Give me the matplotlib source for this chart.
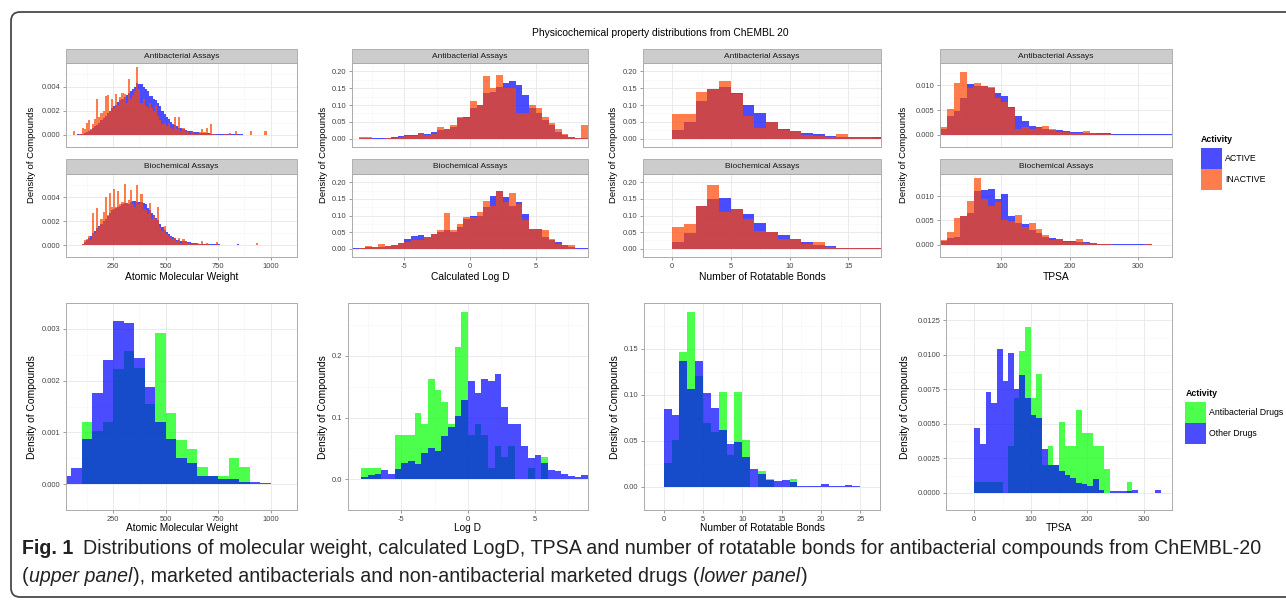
import numpy as np
import matplotlib

matplotlib.use("Agg")
import matplotlib.pyplot as plt
from matplotlib.patches import Rectangle, FancyBboxPatch
from matplotlib.transforms import IdentityTransform

W, H = 1286, 601
plt.rcParams["font.family"] = ["Liberation Sans", "DejaVu Sans"]

# ---------------- data (densities) ----------------
# upper panel: ChEMBL 20 assays, ACTIVE vs INACTIVE
# molecular weight, bins of 10 starting at 60, values in units of 1e-3
mw_start, mw_width = 60, 10
mw_ab_active = [0.02, 0.03, 0.05, 0.07,
                0.10, 0.15, 0.20, 0.30, 0.40, 0.55, 0.70, 0.85, 1.00, 1.20,
                1.40, 1.60, 1.80, 2.00, 2.20, 2.40, 2.50, 2.70, 2.90, 3.00,
                3.10, 3.30, 3.50, 3.60, 3.80, 4.00, 4.30, 4.20, 4.20, 4.00,
                3.80, 3.60, 3.20, 3.20, 3.00, 2.90, 2.60, 2.40, 2.00, 1.70,
                1.50, 1.30, 1.10, 0.90, 0.80, 0.70, 0.60, 0.55, 0.50, 0.40,
                0.35, 0.30, 0.30, 0.25, 0.20, 0.20, 0.18, 0.15, 0.15, 0.12,
                0.12, 0.10, 0.10, 0.10, 0.08,
                0.08, 0.07, 0.07, 0.06, 0.06, 0.05, 0.05, 0.05, 0.04, 0.04,
                0.04, 0.04, 0.03, 0.03, 0.03, 0.03, 0.03, 0.02, 0.02, 0.02,
                0.02, 0.02, 0.02, 0.02, 0.02]
mw_ab_inactive = [0.30, 0.00, 0.00, 0.05,
                  0.60, 0.50, 1.00, 1.20, 0.50, 0.90, 1.30, 3.00, 1.50, 1.80,
                  2.00, 3.20, 3.30, 2.00, 3.00, 2.20, 3.40, 2.50, 3.10, 3.50,
                  3.40, 2.60, 4.60, 3.00, 3.30, 3.60, 5.60, 3.80, 2.60, 3.00,
                  2.40, 2.20, 2.60, 2.20, 2.00, 2.50, 1.60, 1.20, 0.90, 1.00,
                  0.70, 1.00, 0.60, 0.50, 1.50, 0.50, 1.50, 0.30, 0.60, 0.30,
                  0.20, 0.10, 0.30, 0.10, 0.05, 0.10, 0.20, 0.50, 0.20, 0.60,
                  0.10, 0.90, 0.05, 0.05, 0.00,
                  0.00, 0.00, 0.00, 0.05, 0.00, 0.15, 0.00, 0.00, 0.30, 0.00,
                  0.00, 0.00, 0.00, 0.00, 0.00, 0.30, 0.00, 0.00, 0.00, 0.00,
                  0.00, 0.00, 0.30, 0.00, 0.00]
mw_bio_active = [0.02, 0.02, 0.03, 0.03,
                 0.10, 0.25, 0.40, 0.60, 0.80, 1.00, 1.20, 1.40, 1.60, 1.80,
                 2.00, 2.20, 2.40, 2.70, 2.90, 3.00, 3.10, 3.20, 3.30, 3.40,
                 3.50, 3.50, 3.40, 3.60, 3.70, 3.70, 3.60, 3.60, 3.60, 3.50,
                 3.40, 3.10, 2.90, 2.70, 2.50, 2.30, 2.10, 1.80, 1.50, 1.30,
                 1.10, 0.90, 0.80, 0.70, 0.55, 0.45, 0.40, 0.35, 0.30, 0.30,
                 0.25, 0.25, 0.20, 0.20, 0.15, 0.12, 0.10, 0.10, 0.08, 0.08,
                 0.07, 0.06, 0.06, 0.05, 0.05, 0.05, 0.04, 0.04, 0.04, 0.04,
                 0.04, 0.04, 0.03, 0.04, 0.05, 0.03, 0.03, 0.03, 0.03, 0.03,
                 0.03, 0.02, 0.02, 0.02, 0.02, 0.03, 0.02, 0.02, 0.02, 0.02]
mw_bio_inactive = [0.00, 0.00, 0.00, 0.00,
                   0.10, 0.40, 0.50, 0.80, 0.40, 2.70, 1.00, 3.10, 1.50, 2.20,
                   2.80, 4.00, 2.50, 4.40, 3.20, 4.70, 3.20, 4.50, 3.40, 3.60,
                   5.10, 3.50, 3.80, 4.60, 3.40, 3.20, 5.00, 3.40, 4.30, 3.00,
                   2.90, 2.60, 3.50, 2.20, 2.40, 2.20, 3.20, 1.50, 1.20, 1.60,
                   0.90, 0.80, 0.70, 0.50, 0.60, 0.30, 0.60, 0.20, 0.50, 0.30,
                   0.20, 0.15, 0.10, 0.20, 0.10, 0.20, 0.10, 0.30, 0.05, 0.20,
                   0.10, 0.00, 0.00, 0.00, 0.25, 0.00, 0.00, 0.00, 0.00, 0.00,
                   0.00, 0.00, 0.00, 0.00, 0.00, 0.00, 0.00, 0.00, 0.00, 0.00,
                   0.00, 0.00, 0.00, 0.20, 0.00, 0.00, 0.00, 0.00, 0.00, 0.00]

# calculated log D, bins of 0.5 starting at -9
logd_start, logd_width = -9.0, 0.5
logd_ab_active = [0, .001, .001, .002, .002, .003, .004, .007, .010, .012,
                  .016, .015, .020, .025, .030, .035, .060, .065, .090, .100,
                  .135, .140, .155, .165, .172, .160, .130, .090, .075, .055,
                  .040, .020, .010, .005, .003, .002]
logd_ab_inactive = [0, .004, .004, 0, 0, .002, .003, .006, .008, .008,
                    .016, .010, .015, .035, .028, .040, .065, .060, .113, .100,
                    .185, .150, .190, .150, .150, .075, .075, .100, .090, .065,
                    .045, .030, .015, .005, .003, .040]
logd_bio_active = [.002, .003, .005, .004, .006, .008, .010, .018, .028, .037,
                   .042, .035, .045, .050, .055, .050, .065, .090, .097, .100,
                   .125, .160, .175, .156, .130, .140, .105, .060, .060, .035,
                   .025, .020, .010, .005, .002, .001]
logd_bio_inactive = [0, .003, .009, .004, .013, .008, .012, .018, .020, .025,
                     .025, .035, .045, .056, .109, .055, .073, .094, .095, .110,
                     .144, .130, .175, .140, .167, .135, .085, .060, .060, .056,
                     .030, .015, .010, .010, 0, 0]

# number of rotatable bonds, bins of 1 starting at 0
rot_start, rot_width = 0, 1
rot_ab_active = [.025, .050, .112, .147, .155, .136, .100, .075, .048, .030,
                 .022, .018, .013, .008, .005, .006, .004, .004]
rot_ab_inactive = [.073, .073, .140, .148, .170, .133, .068, .033, .048, .025,
                   .022, .010, .008, .005, .015, .006, .004, .002]
rot_bio_active = [.020, .046, .128, .150, .153, .120, .105, .078, .050, .040,
                  .030, .020, .012, .008, .003, .002, .001, .001]
rot_bio_inactive = [.065, .075, .128, .193, .110, .120, .090, .052, .050, .030,
                    .030, .015, .020, .005, .002, .001, .003, .001]

# TPSA, bins of 10 starting at 10, values in units of 1e-3
tpsa_start, tpsa_width = 10, 10
tpsa_ab_active = [1.2, 3.8, 4.8, 7.5, 10.3, 9.8, 9.8, 9.5, 8.4, 7.8,
                  5.7, 3.7, 2.7, 1.8, 1.5, 1.2, 1.0, 0.9, 0.8, 0.6,
                  0.5, 0.4, 0.4, 0.3, 0.3, 0.2, 0.2, 0.2, 0.15, 0.15,
                  0.1, 0.1, 0.1, 0.1]
tpsa_ab_inactive = [1.5, 5.3, 10.5, 12.7, 9.5, 10.5, 9.8, 9.7, 7.5, 6.7,
                    5.5, 1.2, 1.5, 1.2, 1.3, 1.8, 1.1, 0.6, 0.6, 0.4,
                    0.3, 0.8, 0.4, 0.1, 0.1, 0, 0, 0, 0, 0,
                    0, 0, 0, 0]
tpsa_bio_active = [0.7, 1.3, 1.7, 6.0, 6.5, 11.0, 11.2, 11.5, 9.5, 10.4,
                   6.0, 4.5, 4.2, 3.0, 2.5, 1.7, 1.4, 1.1, 0.8, 0.7,
                   0.5, 0.5, 0.3, 0.2, 0.2, 0.15, 0.15, 0.1, 0.1, 0.1,
                   0.1, 0.05, 0.05, 0.05]
tpsa_bio_inactive = [0.9, 2.7, 5.5, 6.0, 9.0, 13.8, 9.5, 8.0, 8.8, 5.1,
                     4.8, 6.2, 3.6, 4.5, 3.3, 2.0, 0.9, 1.1, 0.5, 0.5,
                     1.2, 0.4, 0.3, 0.2, 0.1, 0, 0, 0, 0, 0,
                     0.2, 0, 0, 0]

# lower panel: marketed antibacterial drugs vs other drugs
mkt_mw_start, mkt_mw_width = 0, 50        # units of 1e-3
mkt_mw_antibact = [0, 0, 1.20, 1.03, 1.20, 2.23, 2.58, 2.25, 1.55, 2.92,
                   1.37, 0.85, 0.68, 0.34, 0.15, 0.15, 0.50, 0.34, 0, 0]
mkt_mw_other = [0.15, 0.32, 0.88, 1.76, 2.40, 3.15, 3.12, 2.43, 1.88, 1.20,
                0.88, 0.50, 0.40, 0.15, 0.15, 0.10, 0.10, 0.05, 0.05, 0.03]

mkt_logd_start, mkt_logd_width = -9.0, 0.5
mkt_logd_antibact = [0, 0, .018, .018, .018, 0, 0, .072, .072, .072,
                     .108, .090, .163, .144, .126, .090, .215, .272, .072, .090,
                     .072, .018, .054, .036, .054, 0, 0, .018, 0, .036,
                     0, 0, 0, 0, 0, 0]
mkt_logd_other = [.001, .001, .004, .007, .009, .015, .008, .017, .027, .030,
                  .024, .042, .051, .046, .070, .085, .102, .128, .160, .140,
                  .163, .159, .171, .118, .090, .090, .054, .035, .040, .026,
                  .015, .013, .008, .006, .004, .007]

mkt_rot_start, mkt_rot_width = 0, 1
mkt_rot_antibact = [.026, .051, .146, .190, .120, .069, .060, .103, .035, .103,
                    .051, 0, .017, .009, 0, 0, .009, 0, 0, 0,
                    0, 0, 0, 0, 0]
mkt_rot_other = [.085, .078, .137, .106, .137, .102, .086, .062, .047, .049,
                 .033, .019, .014, .008, .006, .007, .005, .001, .001, .001,
                 .003, .001, .001, .002, .001]

mkt_tpsa_start, mkt_tpsa_width = 0, 10    # units of 1e-3
mkt_tpsa_antibact = [0.8, 0.8, 0.8, 0.8, 0.8, 0, 3.4, 6.9, 10.3, 12.0,
                     6.9, 8.6, 2.0, 3.4, 2.0, 5.1, 3.4, 3.4, 6.0, 4.3,
                     4.3, 3.4, 3.4, 1.7, 0, 0, 0, 0.8, 0, 0,
                     0, 0, 0, 0]
mkt_tpsa_other = [4.7, 3.5, 7.3, 6.5, 10.4, 8.1, 10.1, 7.5, 8.5, 6.9,
                  5.6, 5.4, 3.2, 2.0, 2.0, 1.6, 1.3, 1.1, 0.7, 0.6,
                  0.5, 1.0, 0.2, 0, 0.1, 0.1, 0.1, 0.1, 0.2, 0,
                  0, 0, 0.2, 0]

TOP_COLORS = ("#0000FF", "#FF4500")       # ACTIVE, INACTIVE
BOTTOM_COLORS = ("#00FF00", "#0000FF")    # Antibacterial Drugs, Other Drugs
ALPHA = 0.7

fig = plt.figure(figsize=(W / 100, H / 100), dpi=100)


def add_ax(x0, y0, x1, y1):
    return fig.add_axes([x0 / W, 1 - y1 / H, (x1 - x0) / W, (y1 - y0) / H])


def ftext(x, y, s, **kw):
    return fig.text(x / W, 1 - y / H, s, **kw)


def minors(ticks):
    step = ticks[1] - ticks[0]
    return [ticks[0] - step / 2] + [t + step / 2 for t in ticks]


def draw_pair(ax, start, width, first, second, colors, scale=1.0):
    for vals, c in zip((first, second), colors):
        vals = np.asarray(vals, dtype=float) * scale
        edges = start + width * np.arange(len(vals) + 1)
        ax.stairs(vals, edges, fill=True, color=c, alpha=ALPHA, linewidth=0)


def style(ax, xlim, ylim, xticks, yticks, yfmt, show_x=True):
    ax.set_xlim(xlim)
    ax.set_ylim(ylim)
    ax.set_xticks(xticks)
    ax.set_xticklabels([f"{t:g}" for t in xticks])
    ax.set_yticks(yticks)
    ax.set_yticklabels([yfmt.format(t) for t in yticks])
    ax.set_xticks(minors(xticks), minor=True)
    ax.set_yticks(minors(yticks), minor=True)
    ax.grid(which="major", color="#E8E8E8", linewidth=0.6)
    ax.grid(which="minor", color="#F6F6F6", linewidth=0.4)
    ax.set_axisbelow(True)
    for sp in ax.spines.values():
        sp.set_color("#ABABAB")
        sp.set_linewidth(0.7)
    ax.tick_params(which="major", direction="out", length=2.5, width=0.6,
                   color="#8C8C8C", labelsize=5.4, labelcolor="#444444", pad=1.5)
    ax.tick_params(which="minor", length=0)
    if not show_x:
        ax.tick_params(axis="x", which="both", bottom=False, labelbottom=False)


def strip(x0, y0, x1, y1, label):
    fig.add_artist(Rectangle((x0 / W, 1 - y1 / H), (x1 - x0) / W, (y1 - y0) / H,
                             transform=fig.transFigure, facecolor="#CCCCCC",
                             edgecolor="#A8A8A8", linewidth=0.6))
    ftext((x0 + x1) / 2, (y0 + y1) / 2, label, ha="center", va="center",
          fontsize=6.0, color="#1A1A1A")


def top_column(x0, x1, series, start, width, scale, xlim, ylim, xticks, yticks,
               yfmt, xlabel, ylab_x):
    facets = [(49, 63, 147, "Antibacterial Assays", False),
              (159, 174, 257, "Biochemical Assays", True)]
    for (s0, p0, p1, name, show_x), (act, inact) in zip(facets, series):
        strip(x0, s0, x1, p0, name)
        ax = add_ax(x0, p0, x1, p1)
        draw_pair(ax, start, width, act, inact, TOP_COLORS, scale)
        style(ax, xlim, ylim, xticks, yticks, yfmt, show_x)
    ftext((x0 + x1) / 2, 277, xlabel, ha="center", va="center", fontsize=7.4)
    ftext(ylab_x, 155, "Density of Compounds", ha="center", va="center",
          rotation=90, fontsize=6.8)


def bottom_panel(x0, x1, first, second, start, width, scale, xlim, ylim,
                 xticks, yticks, yfmt, xlabel, ylab_x):
    ax = add_ax(x0, 303, x1, 510)
    draw_pair(ax, start, width, first, second, BOTTOM_COLORS, scale)
    style(ax, xlim, ylim, xticks, yticks, yfmt)
    ftext((x0 + x1) / 2, 528, xlabel, ha="center", va="center", fontsize=7.3)
    ftext(ylab_x, 407, "Density of Compounds", ha="center", va="center",
          rotation=90, fontsize=7.4)


# ---------------- upper panel ----------------
top_column(66, 297, [(mw_ab_active, mw_ab_inactive), (mw_bio_active, mw_bio_inactive)],
           mw_start, mw_width, 1e-3, (26, 1000), (-0.00025, 0.00595),
           [250, 500, 750, 1000], [0, 0.002, 0.004], "{:.3f}",
           "Atomic Molecular Weight", 32)
top_column(352, 588, [(logd_ab_active, logd_ab_inactive), (logd_bio_active, logd_bio_inactive)],
           logd_start, logd_width, 1.0, (-9, 9), (-0.0103, 0.2009),
           [-5, 0, 5], [0, 0.05, 0.10, 0.15, 0.20], "{:.2f}",
           "Calculated Log D", 323)
top_column(643, 881, [(rot_ab_active, rot_ab_inactive), (rot_bio_active, rot_bio_inactive)],
           rot_start, rot_width, 1.0, (0, 17.8), (-0.0085, 0.2017),
           [0, 5, 10, 15], [0, 0.05, 0.10, 0.15, 0.20], "{:.2f}",
           "Number of Rotatable Bonds", 613)
top_column(940, 1172, [(tpsa_ab_active, tpsa_ab_inactive), (tpsa_bio_active, tpsa_bio_inactive)],
           tpsa_start, tpsa_width, 1e-3, (10, 350), (-0.0006, 0.01454),
           [100, 200, 300], [0, 0.005, 0.010], "{:.3f}",
           "TPSA", 903)

ftext(660, 33, "Physicochemical property distributions from ChEMBL 20",
      ha="center", va="center", fontsize=7.4)

# legend (upper)
ftext(1201, 140, "Activity", ha="left", va="center", fontsize=6.3, fontweight="bold")
for i, (lab, c) in enumerate(zip(["ACTIVE", "INACTIVE"], TOP_COLORS)):
    y0 = 148 + 21 * i
    fig.add_artist(Rectangle((1201 / W, 1 - (y0 + 21) / H), 21 / W, 21 / H,
                             transform=fig.transFigure, facecolor=c, alpha=ALPHA,
                             edgecolor="none"))
    ftext(1225, y0 + 10.5, lab, ha="left", va="center", fontsize=6.3)

# ---------------- lower panel ----------------
bottom_panel(66, 297, mkt_mw_antibact, mkt_mw_other, mkt_mw_start, mkt_mw_width, 1e-3,
             (26, 1000), (-0.000157, 0.00332), [250, 500, 750, 1000],
             [0, 0.001, 0.002, 0.003], "{:.3f}", "Atomic Molecular Weight", 32)
bottom_panel(348, 588, mkt_logd_antibact, mkt_logd_other, mkt_logd_start, mkt_logd_width, 1.0,
             (-9, 9), (-0.0135, 0.286), [-5, 0, 5], [0, 0.1, 0.2], "{:.1f}",
             "Log D", 323)
bottom_panel(644, 880, mkt_rot_antibact, mkt_rot_other, mkt_rot_start, mkt_rot_width, 1.0,
             (0, 25), (-0.0094, 0.1995), [0, 5, 10, 15, 20, 25],
             [0, 0.05, 0.10, 0.15], "{:.2f}", "Number of Rotatable Bonds", 615)
bottom_panel(946, 1172, mkt_tpsa_antibact, mkt_tpsa_other, mkt_tpsa_start, mkt_tpsa_width, 1e-3,
             (0, 331), (-0.0006, 0.01265), [0, 100, 200, 300],
             [0, 0.0025, 0.0050, 0.0075, 0.0100, 0.0125], "{:.4f}", "TPSA", 905)

# legend (lower)
ftext(1186, 394, "Activity", ha="left", va="center", fontsize=6.3, fontweight="bold")
for i, (lab, c) in enumerate(zip(["Antibacterial Drugs", "Other Drugs"], BOTTOM_COLORS)):
    y0 = 402 + 21 * i
    fig.add_artist(Rectangle((1185 / W, 1 - (y0 + 21) / H), 21 / W, 21 / H,
                             transform=fig.transFigure, facecolor=c, alpha=ALPHA,
                             edgecolor="none"))
    ftext(1209, y0 + 10.5, lab, ha="left", va="center", fontsize=6.3)

# ---------------- frame and caption ----------------
fig.add_artist(FancyBboxPatch((11, H - 597), 1600, 585,
                              boxstyle="round,pad=0,rounding_size=9",
                              transform=IdentityTransform(), facecolor="none",
                              edgecolor="#4A4A4A", linewidth=1.3))

renderer = fig.canvas.get_renderer()


def rich_line(x, y, pieces, size):
    texts = []
    for txt, kw in pieces:
        if txt is None:
            x += kw
            continue
        t = ftext(x, y, txt, fontsize=size, ha="left", va="center", color="#222222", **kw)
        texts.append(t)
        x += t.get_window_extent(renderer=renderer).width + 0.5
    return x, texts


line1 = [("Fig. 1", {"fontweight": "bold"}), (None, 9),
         ("Distributions of molecular weight, calculated LogD, TPSA and number of "
          "rotatable bonds for antibacterial compounds from ChEMBL-20", {})]
line2 = [("(", {}), ("upper panel", {"fontstyle": "italic"}),
         ("), marketed antibacterials and non-antibacterial marketed drugs (", {}),
         ("lower panel", {"fontstyle": "italic"}), (")", {})]

# size the caption so the first line spans the same width as in the figure
end, trial = rich_line(22, 548, line1, 10)
for t in trial:
    t.remove()
cap_size = 10 * (1262 - 22) / (end - 22)
rich_line(22, 548, line1, cap_size)
rich_line(22, 576, line2, cap_size)

fig.savefig("out.png", dpi=100)
